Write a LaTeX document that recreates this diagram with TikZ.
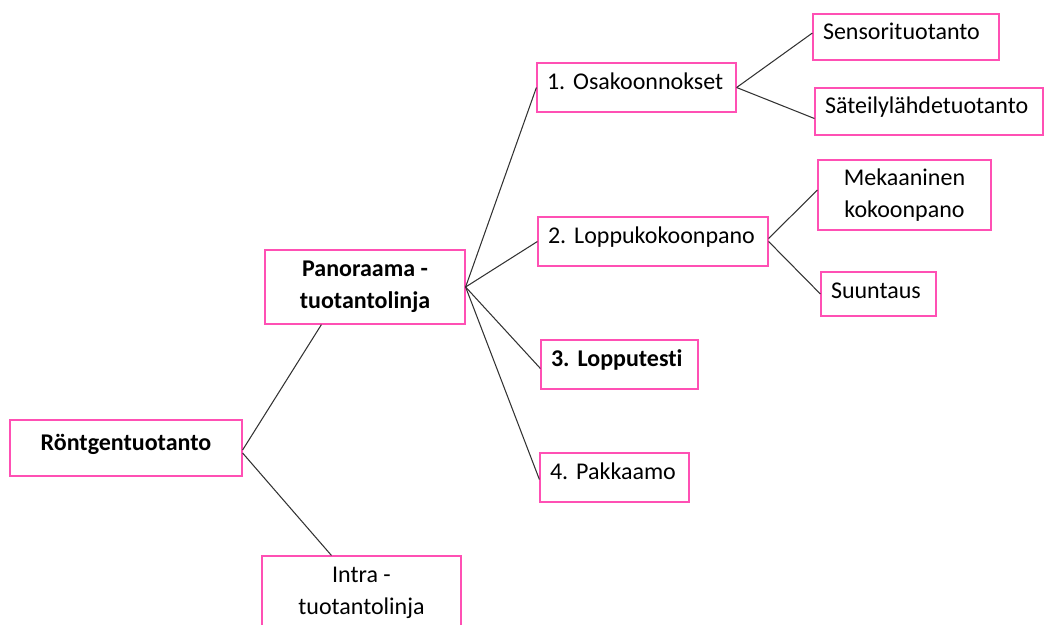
\documentclass[tikz,border=0pt]{standalone}
\usepackage{fontspec}
\setmainfont[RawFeature={-liga;-clig;-dlig}]{Carlito}
\frenchspacing
\definecolor{boxpink}{RGB}{255,80,180}
\definecolor{linegray}{RGB}{50,50,50}
\begin{document}
\begin{tikzpicture}[x=1pt,y=-1pt,
  box/.style={draw=boxpink, line width=1.2pt, inner sep=0pt, font=\fontsize{24}{32}\selectfont},
  raised/.style={text height=17pt, text depth=13pt},
  lbox/.style={box, raised, align=left, text width=#1, execute at begin node=\hspace*{10pt}},
  cbox/.style={box, align=center},
  conn/.style={draw=linegray, line width=1.05pt}]
\useasboundingbox (0,0) rectangle (1044,624);
\begin{scope}
\clip (0,0) rectangle (1044,624);
\node[cbox, raised, minimum width=232pt, minimum height=56pt, font=\fontsize{24}{32}\selectfont\bfseries] (rt) at (126,448) {Röntgentuotanto};
\node[cbox, minimum width=200pt, minimum height=74pt, font=\fontsize{24}{32}\selectfont\bfseries] (pan) at (365,287) {Panoraama -\\tuotantolinja};
\node[cbox, minimum width=199pt, minimum height=74pt] (intra) at (361.5,593) {Intra -\\tuotantolinja};
\node[lbox=199pt, minimum height=49pt] (osa) at (636.5,87.5) {1. Osakoonnokset};
\node[lbox=186pt, minimum height=46pt] (sens) at (906,37) {Sensorituotanto};
\node[lbox=228pt, minimum height=47pt] (sat) at (929,111.5) {Säteilylähdetuotanto};
\node[cbox, minimum width=173pt, minimum height=70pt] (mek) at (904.5,195) {Mekaaninen\\kokoonpano};
\node[lbox=230pt, minimum height=49pt] (lop) at (653,241.5) {2. Loppukokoonpano};
\node[lbox=115pt, minimum height=44pt, text depth=8pt] (suu) at (878.5,294) {Suuntaus};
\node[lbox=157pt, minimum height=49pt, font=\fontsize{24}{32}\selectfont\bfseries] (lt) at (619.5,364.5) {3. Lopputesti};
\node[lbox=149pt, minimum height=49pt] (pak) at (614.5,477.5) {4. Pakkaamo};
\end{scope}
\draw[conn] ([yshift=-2pt]rt.east) -- ([xshift=57pt]pan.south west);
\draw[conn] ([yshift=-5pt]rt.east) -- ([xshift=70pt]intra.north west);
\draw[conn] (pan.east) -- (osa.west);
\draw[conn] (pan.east) -- (lop.west);
\draw[conn] (pan.east) -- ([yshift=-4pt]lt.west);
\draw[conn] (pan.east) -- ([yshift=-2pt]pak.west);
\draw[conn] (osa.east) -- ([yshift=4pt]sens.west);
\draw[conn] (osa.east) -- ([yshift=-7pt]sat.west);
\draw[conn] ([yshift=3pt]lop.east) -- ([yshift=5pt]mek.west);
\draw[conn] (lop.east) -- (suu.west);
\end{tikzpicture}
\end{document}
